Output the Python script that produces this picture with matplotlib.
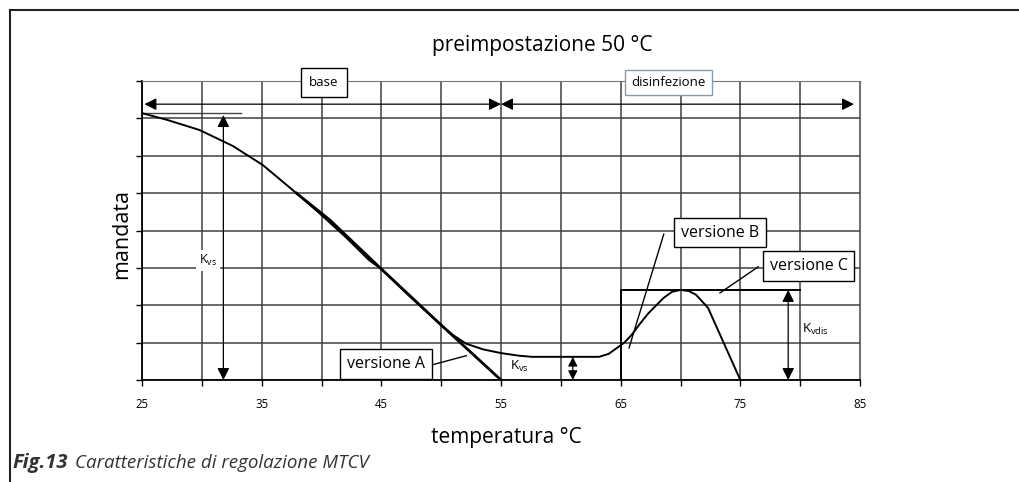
import matplotlib.pyplot as plt
from matplotlib.lines import Line2D

plt.rcParams['font.family'] = ['Open Sans', 'DejaVu Sans']

# ===== data =====
# shared curve (versione B) - temperatura vs mandata
curve_x = [25, 27.1, 29.8, 32.6, 35.1, 37.9, 39.8, 42, 44, 45, 47.5, 50, 51, 52.1, 53.5, 55, 56.5,
           57.6, 60, 63.2, 64, 64.7, 65.3, 65.9, 66.6, 67.3, 68.6, 69.3, 70, 70.7, 71.3, 72.3, 75]
curve_y = [7.14, 6.96, 6.69, 6.26, 5.75, 5.0, 4.47, 3.83, 3.2, 2.97, 2.2, 1.47, 1.2, 0.97, 0.82, 0.72, 0.65,
           0.62, 0.62, 0.62, 0.7, 0.86, 1.0, 1.2, 1.5, 1.78, 2.2, 2.36, 2.41, 2.38, 2.28, 1.93, 0.0]

# versione A - straight drop to 55 °C
verA_x = [37.9, 40.7, 45, 50, 55]
verA_y = [5.0, 4.28, 2.97, 1.47, 0.0]

# versione C - step
verC_x = [65, 65, 80]
verC_y = [0.0, 2.41, 2.41]

x_major = [25, 35, 45, 55, 65, 75, 85]
x_minor = [30, 40, 50, 60, 70, 80]
y_grid = [0, 1, 2, 3, 4, 5, 6, 7, 8]

kvs_top = 7.14
band_y = 7.38
kvs_small = 0.62
kvdis_top = 2.41

fig = plt.figure(figsize=(10.2, 4.82), dpi=100)
ax = fig.add_axes([142 / 1020, 102 / 482, 718 / 1020, 299 / 482])

ax.set_xlim(25, 85)
ax.set_ylim(0, 8)
ax.set_xticks(x_major)
ax.set_xticks(x_minor, minor=True)
ax.set_yticks(y_grid)
ax.set_yticklabels([])
ax.tick_params(axis="x", which="both", direction="out", length=4, width=1, pad=9, labelsize=8.3)
ax.tick_params(axis="y", direction="out", length=4, width=1)
ax.grid(True, which="both", color="#404040", linewidth=1.1)
ax.set_axisbelow(True)
for side in ["top", "right"]:
    ax.spines[side].set_color("#777777")
for side in ["left", "bottom"]:
    ax.spines[side].set_color("black")
    ax.spines[side].set_linewidth(1.3)

# curves
ax.plot(curve_x, curve_y, color="black", lw=1.4, zorder=3)
ax.plot(verA_x, verA_y, color="black", lw=2.0, zorder=3)
ax.plot(verC_x, verC_y, color="black", lw=1.4, zorder=3)

# top band arrows
arr = dict(arrowstyle="<|-|>", color="black", lw=0.9, mutation_scale=18, shrinkA=0, shrinkB=0)
ax.annotate("", xy=(25.2, band_y), xytext=(55, band_y), arrowprops=arr)
ax.annotate("", xy=(55, band_y), xytext=(84.5, band_y), arrowprops=arr)

# K_vs (left)
ax.plot([25, 33.3], [kvs_top, kvs_top], color="#444444", lw=1)
ax.annotate("", xy=(31.8, kvs_top - 0.05), xytext=(31.8, 0), arrowprops=arr)
ax.text(30.5, 3.2, "K$_{\\mathregular{vs}}$", fontsize=9, ha="center", va="center",
        bbox=dict(fc="white", ec="none", pad=2), zorder=4)

# K_vs (small)
ax.annotate("", xy=(61, kvs_small), xytext=(61, 0), arrowprops=dict(
    arrowstyle="<|-|>", color="black", lw=0.9, mutation_scale=14, shrinkA=0, shrinkB=0))
ax.text(56.5, 0.35, "K$_{\\mathregular{vs}}$", fontsize=9.5, ha="center", va="center")

# K_vdis
ax.annotate("", xy=(79, kvdis_top), xytext=(79, 0), arrowprops=arr)
ax.text(81.3, 1.34, "K$_{\\mathregular{vdis}}$", fontsize=9.5, ha="center", va="center",
        bbox=dict(fc="white", ec="none", pad=1), zorder=4)

# boxed labels
box = dict(boxstyle="square,pad=0.42", fc="white", ec="black", lw=1)
ax.text(40.2, 7.97, "base", fontsize=9.5, ha="center", va="center", zorder=5, clip_on=False,
        bbox=dict(boxstyle="square,pad=0.6", fc="white", ec="black", lw=1))
ax.text(69, 7.97, "disinfezione", fontsize=9.5, ha="center", va="center", zorder=5, clip_on=False,
        bbox=dict(boxstyle="square,pad=0.45", fc="white", ec="#8899aa", lw=1))
ax.text(73.3, 3.94, "versione B", fontsize=11.5, ha="center", va="center", bbox=box, zorder=5)
ax.text(80.7, 3.05, "versione C", fontsize=11.5, ha="center", va="center", bbox=box, zorder=5)
ax.text(45.4, 0.43, "versione A", fontsize=11.5, ha="center", va="center", bbox=box, zorder=5)

# leader lines
ax.plot([68.6, 65.7], [3.9, 0.86], color="black", lw=1, zorder=3)
ax.plot([76.5, 73.3], [3.03, 2.33], color="black", lw=1, zorder=3)
ax.plot([49.3, 52.1], [0.41, 0.65], color="black", lw=1, zorder=3)

# titles
fig.text(432 / 1020, 1 - 45 / 482, "preimpostazione 50 °C", fontsize=15, ha="left", va="center")
fig.text(506 / 1020, 1 - 437 / 482, "temperatura °C", fontsize=15, ha="center", va="center")
fig.text(122 / 1020, 1 - 234 / 482, "mandata", fontsize=15.5, rotation=90, ha="center", va="center")
fig.text(12 / 1020, 1 - 463 / 482, "Fig.13", fontsize=14.5, fontweight="bold", style="italic",
         color="#333333", ha="left", va="center")
fig.text(75 / 1020, 1 - 463 / 482, "Caratteristiche di regolazione MTCV", fontsize=13.5, style="italic",
         color="#333333", ha="left", va="center")

# outer frame
fig.add_artist(Line2D([10 / 1020, 1], [1 - 10 / 482, 1 - 10 / 482], color="#222222", lw=1.5))
fig.add_artist(Line2D([10 / 1020, 10 / 1020], [0, 1 - 10 / 482], color="#222222", lw=1.5))

plt.savefig("out.png", dpi=100)
plt.close()
